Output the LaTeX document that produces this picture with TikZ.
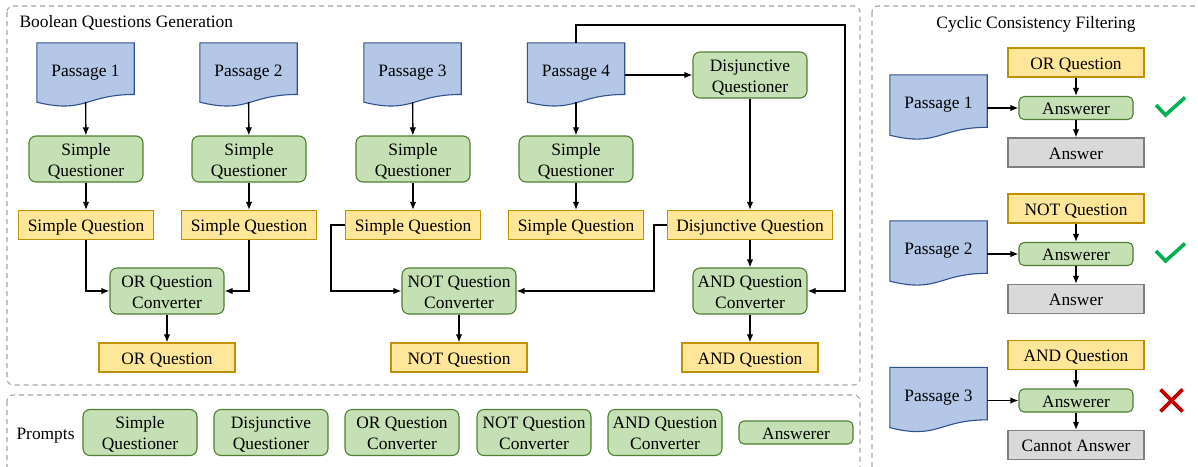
\documentclass[tikz,border=0pt]{standalone}
\usepackage{fontspec}
\setmainfont{Liberation Serif}
\usetikzlibrary{arrows.meta,calc,backgrounds}
\definecolor{gfill}{HTML}{C5E0B4}
\definecolor{gdraw}{HTML}{507E32}
\definecolor{yfill}{HTML}{FFE699}
\definecolor{ydraw}{HTML}{BF9000}
\definecolor{bfill}{HTML}{B4C7E7}
\definecolor{bdraw}{HTML}{2F528F}
\definecolor{rfill}{HTML}{D9D9D9}
\definecolor{rdraw}{HTML}{7F7F7F}
\definecolor{panelc}{HTML}{A6A6A6}
\definecolor{okc}{HTML}{00B050}
\definecolor{noc}{HTML}{C00000}
\tikzset{
  every node/.style={font=\fontsize{17.4}{21}\selectfont, text=black},
  base/.style={draw, line width=1.1pt, align=center, inner sep=0pt},
  one/.style={text height=14pt, text depth=1pt},
  two/.style={text height=37pt, text depth=2.5pt},
  gbox/.style={base, two, rounded corners=7pt, fill=gfill, draw=gdraw, minimum width=114pt, minimum height=46pt},
  abox/.style={base, one, rounded corners=5pt, fill=gfill, draw=gdraw, minimum width=114pt, minimum height=23pt},
  ybox/.style={base, one, fill=yfill, draw=ydraw, minimum width=136pt, minimum height=29pt},
  rbox/.style={base, one, fill=rfill, draw=rdraw, minimum width=136pt, minimum height=29pt},
  doc/.style={inner sep=0pt, minimum width=97pt, minimum height=59pt, align=center},
  docline/.style={fill=bfill, draw=bdraw, line width=1.1pt},
  arr/.style={line width=1.4pt, -{Latex[length=8pt,width=6.5pt]}},
  panel/.style={draw=panelc, dash pattern=on 5pt off 4pt, line width=1.1pt, rounded corners=6pt},
  signmark/.style={line width=3.6pt}
}
\newcommand\docshape[1]{%
  \path[docline] (#1.north west) -- (#1.north east) -- ($(#1.north east)!0.87!(#1.south east)$)
    .. controls ($(#1.north)!0.87!(#1.south)$) and ($(#1.north)!1.20!(#1.south)$) .. (#1.south west) -- cycle;}
\begin{document}
\begin{tikzpicture}[x=1pt,y=-1pt]
\useasboundingbox (0,0) rectangle (1198,466);
\begin{scope}
\clip (0,0) rectangle (1198,466);
\draw[panel] (7,6) rectangle (860,385);
\draw[panel] (7,395) rectangle (860,480);
\draw[panel] (872,6) rectangle (1210,480);
\end{scope}
\node[anchor=west, one] (t1) at (16,21) {Boolean Questions Generation};
\node[one] (t2) at (1036,22) {Cyclic Consistency Filtering};

% main passages
\node[doc] (p1) at (85.5,72.5) {Passage 1};
\node[doc] (p2) at (248.5,72.5) {Passage 2};
\node[doc] (p3) at (412.5,72.5) {Passage 3};
\node[doc] (p4) at (576,72.5) {Passage 4};
% right passages
\node[doc, minimum height=60pt] (rp1) at (938.5,105) {Passage 1};
\node[doc, minimum height=60pt] (rp2) at (938.5,251) {Passage 2};
\node[doc, minimum height=60pt] (rp3) at (938.5,397.5) {Passage 3};
\begin{pgfonlayer}{background}
\docshape{p1}\docshape{p2}\docshape{p3}\docshape{p4}
\docshape{rp1}\docshape{rp2}\docshape{rp3}
\end{pgfonlayer}

\node[gbox] (sq1) at (86,159) {Simple\\Questioner};
\node[gbox] (sq2) at (249,159) {Simple\\Questioner};
\node[gbox] (sq3) at (413,159) {Simple\\Questioner};
\node[gbox] (sq4) at (576,159) {Simple\\Questioner};
\node[gbox] (dqer) at (750,75) {Disjunctive\\Questioner};

\node[ybox, minimum width=135pt] (s1) at (86,225) {Simple Question};
\node[ybox, minimum width=135pt] (s2) at (249,225) {Simple Question};
\node[ybox, minimum width=135pt] (s3) at (413,225) {Simple Question};
\node[ybox, minimum width=135pt] (s4) at (576,225) {Simple Question};
\node[ybox, minimum width=165pt] (dq) at (750,225) {Disjunctive Question};

\node[gbox] (orc) at (167,291) {OR Question\\Converter};
\node[gbox] (notc) at (459,291) {NOT Question\\Converter};
\node[gbox] (andc) at (750,291) {AND Question\\Converter};

\node[ybox] (orq) at (167,357.5) {OR Question};
\node[ybox] (notq) at (459,357.5) {NOT Question};
\node[ybox] (andq) at (750,357.5) {AND Question};

\coordinate (loopc) at (845,25);
\coordinate (l3) at (331,225);
\coordinate (l4) at (654,225);

\draw[arr] (p1) -- (sq1);
\draw[arr] (p2) -- (sq2);
\draw[arr] (p3) -- (sq3);
\draw[arr] (p4) -- (sq4);
\draw[arr] (sq1) -- (s1);
\draw[arr] (sq2) -- (s2);
\draw[arr] (sq3) -- (s3);
\draw[arr] (sq4) -- (s4);
\draw[arr] (dqer.west -| p4.east) -- (dqer.west);
\draw[arr] (dqer) -- (dq);
\draw[arr] (p4.north) |- (loopc) |- (andc.east);
\draw[arr] (s1.south) |- (orc.west);
\draw[arr] (s2.south) |- (orc.east);
\draw[arr] (s3.west) -- (l3) |- (notc.west);
\draw[arr] (dq.west) -- (l4) |- (notc.east);
\draw[arr] (dq) -- (andc);
\draw[arr] (orc) -- (orq);
\draw[arr] (notc) -- (notq);
\draw[arr] (andc) -- (andq);

% right panel
\node[ybox] (q1) at (1076,62.5) {OR Question};
\node[abox] (a1) at (1076,108) {Answerer};
\node[rbox] (r1) at (1076,152.5) {Answer};
\node[ybox] (q2) at (1076,208.5) {NOT Question};
\node[abox] (a2) at (1076,254) {Answerer};
\node[rbox] (r2) at (1076,299) {Answer};
\node[ybox] (q3) at (1076,355) {AND Question};
\node[abox] (a3) at (1076,400.5) {Answerer};
\node[rbox] (r3) at (1076,445) {Cannot Answer};
\foreach \i in {1,2,3}{
  \draw[arr] (q\i) -- (a\i);
  \draw[arr] (a\i) -- (r\i);
  \draw[arr] (a\i.west -| rp\i.east) -- (a\i.west);
}
\draw[signmark, okc] (1156,105) -- (1165.5,115) -- (1185,97.5);
\draw[signmark, okc] (1156,251) -- (1165.5,261) -- (1185,243.5);
\draw[signmark, noc] (1160.5,389.5) -- (1182.5,411.5);
\draw[signmark, noc] (1160.5,411.5) -- (1182.5,389.5);

% prompts
\node[anchor=west, one] (pr) at (13,432.5) {Prompts};
\node[gbox] (k1) at (140,432.5) {Simple\\Questioner};
\node[gbox] (k2) at (271,432.5) {Disjunctive\\Questioner};
\node[gbox] (k3) at (402,432.5) {OR Question\\Converter};
\node[gbox] (k4) at (534,432.5) {NOT Question\\Converter};
\node[gbox] (k5) at (665,432.5) {AND Question\\Converter};
\node[abox] (k6) at (796,432.5) {Answerer};
\end{tikzpicture}
\end{document}
